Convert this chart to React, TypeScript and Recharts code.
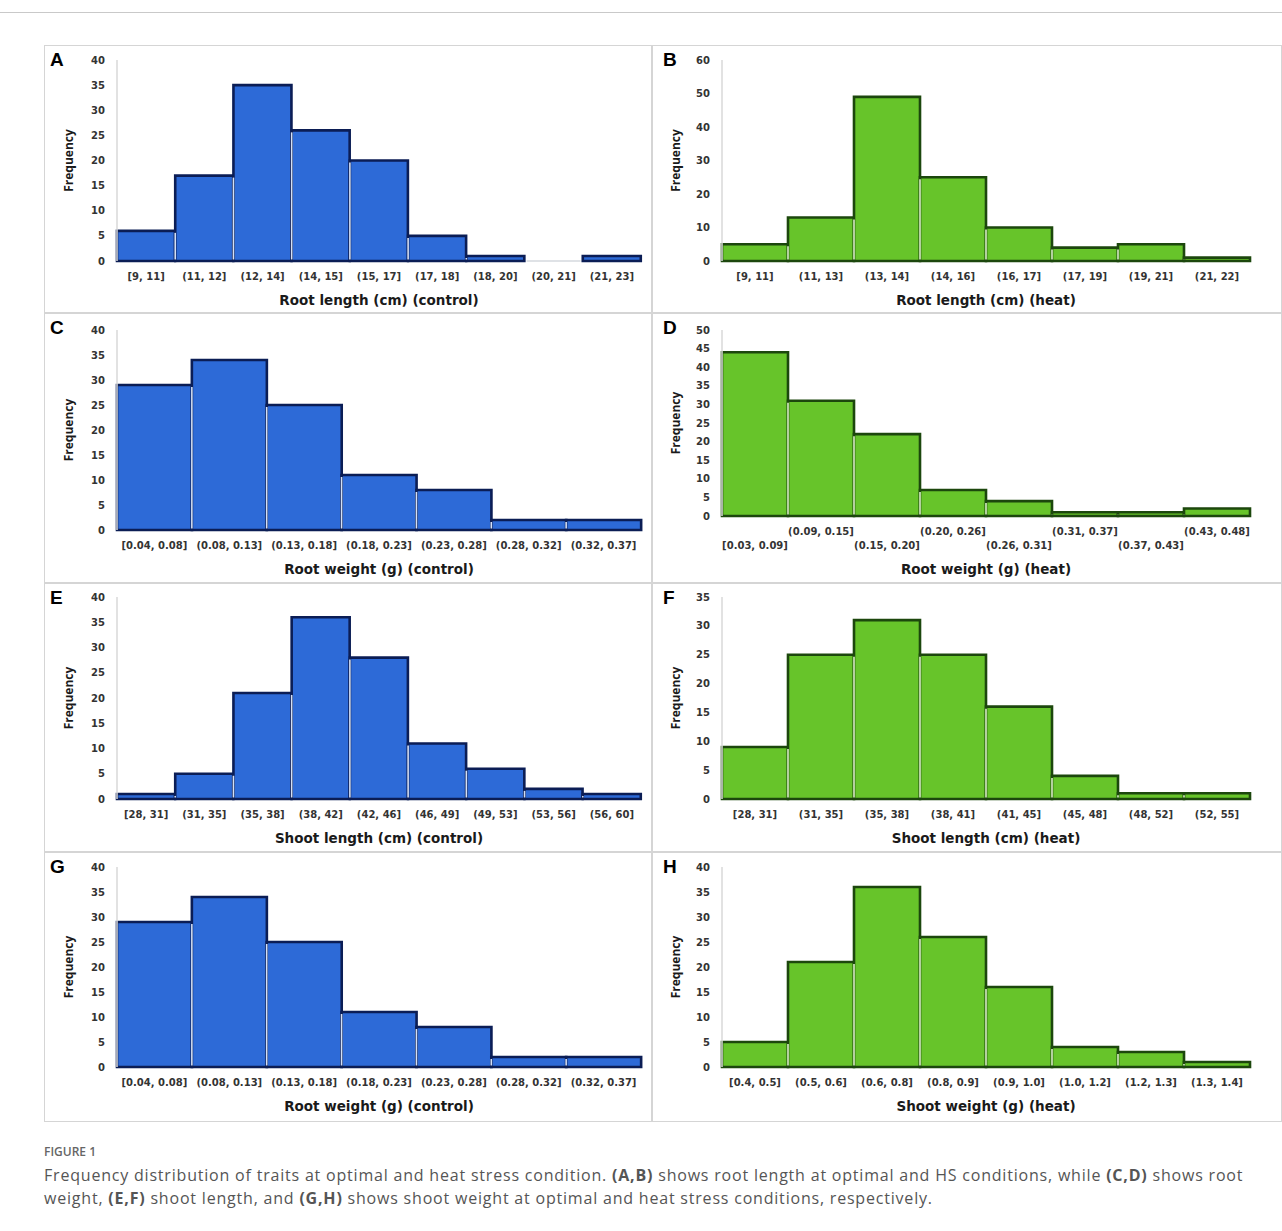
import { BarChart, Bar, XAxis, YAxis, Label } from "recharts";

// bins and frequencies
const rootLengthControlBins = ["[9, 11]", "(11, 12]", "(12, 14]", "(14, 15]", "(15, 17]", "(17, 18]", "(18, 20]", "(20, 21]", "(21, 23]"];
const rootLengthControlFreq = [6, 17, 35, 26, 20, 5, 1, 0, 1];

const rootLengthHeatBins = ["[9, 11]", "(11, 13]", "(13, 14]", "(14, 16]", "(16, 17]", "(17, 19]", "(19, 21]", "(21, 22]"];
const rootLengthHeatFreq = [5, 13, 49, 25, 10, 4, 5, 1];

const rootWeightControlBins = ["[0.04, 0.08]", "(0.08, 0.13]", "(0.13, 0.18]", "(0.18, 0.23]", "(0.23, 0.28]", "(0.28, 0.32]", "(0.32, 0.37]"];
const rootWeightControlFreq = [29, 34, 25, 11, 8, 2, 2];

const rootWeightHeatBins = ["[0.03, 0.09]", "(0.09, 0.15]", "(0.15, 0.20]", "(0.20, 0.26]", "(0.26, 0.31]", "(0.31, 0.37]", "(0.37, 0.43]", "(0.43, 0.48]"];
const rootWeightHeatFreq = [44, 31, 22, 7, 4, 1, 1, 2];

const shootLengthControlBins = ["[28, 31]", "(31, 35]", "(35, 38]", "(38, 42]", "(42, 46]", "(46, 49]", "(49, 53]", "(53, 56]", "(56, 60]"];
const shootLengthControlFreq = [1, 5, 21, 36, 28, 11, 6, 2, 1];

const shootLengthHeatBins = ["[28, 31]", "(31, 35]", "(35, 38]", "(38, 41]", "(41, 45]", "(45, 48]", "(48, 52]", "(52, 55]"];
const shootLengthHeatFreq = [9, 25, 31, 25, 16, 4, 1, 1];

// panel G repeats the root weight (control) histogram
const shootWeightControlBins = ["[0.04, 0.08]", "(0.08, 0.13]", "(0.13, 0.18]", "(0.18, 0.23]", "(0.23, 0.28]", "(0.28, 0.32]", "(0.32, 0.37]"];
const shootWeightControlFreq = [29, 34, 25, 11, 8, 2, 2];

const shootWeightHeatBins = ["[0.4, 0.5]", "(0.5, 0.6]", "(0.6, 0.8]", "(0.8, 0.9]", "(0.9, 1.0]", "(1.0, 1.2]", "(1.2, 1.3]", "(1.3, 1.4]"];
const shootWeightHeatFreq = [5, 21, 36, 26, 16, 4, 3, 1];

const ticks35 = [0, 5, 10, 15, 20, 25, 30, 35];
const ticks40 = [0, 5, 10, 15, 20, 25, 30, 35, 40];
const ticks50 = [0, 5, 10, 15, 20, 25, 30, 35, 40, 45, 50];
const ticks60 = [0, 10, 20, 30, 40, 50, 60];

const BLUE = { fill: "#2d6ad7", dark: "#0b1d55", light: "#d3e0f7" };
const GREEN = { fill: "#67c42a", dark: "#1c470d", light: "#dcf3c6" };

const FONT = "'Open Sans', 'DejaVu Sans', sans-serif";
const TICK_FONT = "'DejaVu Sans', Verdana, sans-serif";

const rowTop = [45, 313, 583, 852];
const rowHeight = [268, 270, 269, 270];

type PanelCfg = {
  letter: string;
  title: string;
  bins: string[];
  freq: number[];
  ticks: number[];
  color: typeof BLUE;
  col: number;
  row: number;
  marginTop: number;
  axisHeight: number;
  stagger?: boolean;
};

const panels: PanelCfg[] = [
  { letter: "A", title: "Root length (cm) (control)", bins: rootLengthControlBins, freq: rootLengthControlFreq, ticks: ticks40, color: BLUE, col: 0, row: 0, marginTop: 15, axisHeight: 52 },
  { letter: "B", title: "Root length (cm) (heat)", bins: rootLengthHeatBins, freq: rootLengthHeatFreq, ticks: ticks60, color: GREEN, col: 1, row: 0, marginTop: 15, axisHeight: 52 },
  { letter: "C", title: "Root weight (g) (control)", bins: rootWeightControlBins, freq: rootWeightControlFreq, ticks: ticks40, color: BLUE, col: 0, row: 1, marginTop: 17, axisHeight: 53 },
  { letter: "D", title: "Root weight (g) (heat)", bins: rootWeightHeatBins, freq: rootWeightHeatFreq, ticks: ticks50, color: GREEN, col: 1, row: 1, marginTop: 17, axisHeight: 67, stagger: true },
  { letter: "E", title: "Shoot length (cm) (control)", bins: shootLengthControlBins, freq: shootLengthControlFreq, ticks: ticks40, color: BLUE, col: 0, row: 2, marginTop: 14, axisHeight: 53 },
  { letter: "F", title: "Shoot length (cm) (heat)", bins: shootLengthHeatBins, freq: shootLengthHeatFreq, ticks: ticks35, color: GREEN, col: 1, row: 2, marginTop: 14, axisHeight: 53 },
  { letter: "G", title: "Root weight (g) (control)", bins: shootWeightControlBins, freq: shootWeightControlFreq, ticks: ticks40, color: BLUE, col: 0, row: 3, marginTop: 15, axisHeight: 55 },
  { letter: "H", title: "Shoot weight (g) (heat)", bins: shootWeightHeatBins, freq: shootWeightHeatFreq, ticks: ticks40, color: GREEN, col: 1, row: 3, marginTop: 15, axisHeight: 55 },
];

function makeShape(values: number[], c: typeof BLUE) {
  return (props: any) => {
    const { x, y, width, height, index } = props;
    const v = values[index];
    const bottom = y + height;
    if (!v) {
      return <line x1={x + 2} x2={x + width - 2} y1={bottom} y2={bottom} stroke="#d4d8de" strokeWidth={1.5} />;
    }
    const unit = height / v;
    const prev = index > 0 ? values[index - 1] : 0;
    const shared = Math.min(prev, v) * unit;
    return (
      <g>
        <rect x={x} y={y} width={width} height={height} fill={c.fill} />
        <path
          d={`M${x},${bottom} L${x},${y} L${x + width},${y} L${x + width},${bottom} Z`}
          fill="none"
          stroke={c.dark}
          strokeWidth={2.6}
        />
        {shared > 3 && (
          <line x1={x} x2={x} y1={bottom - 1.5} y2={bottom - shared + 2} stroke={c.light} strokeWidth={1.6} />
        )}
      </g>
    );
  };
}

function Panel({ p }: { p: PanelCfg }) {
  const left = p.col === 0 ? 44 : 652;
  const top = rowTop[p.row];
  const h = rowHeight[p.row];
  const data = p.bins.map((b, i) => ({ bin: b, freq: p.freq[i] }));
  const yMax = p.ticks[p.ticks.length - 1];

  const xTick = (props: any) => {
    const { x, y, payload, index } = props;
    const dy = p.stagger ? (index % 2 === 0 ? 29 : 15) : 15;
    return (
      <text x={x} y={y + dy} textAnchor="middle" dominantBaseline="central" fontFamily={TICK_FONT} fontSize={10} fontWeight={700} fill="#333">
        {payload.value}
      </text>
    );
  };

  return (
    <div style={{ position: "absolute", left, top, width: p.col === 0 ? 608 : 630, height: h, boxSizing: "border-box", border: "1.5px solid #d5d5d5" }}>
      <div style={{ position: "absolute", left: p.col === 0 ? 0 : -1, top: -1.5 }}>
        <BarChart
          width={608}
          height={h}
          data={data}
          barCategoryGap={0}
          barGap={0}
          margin={{ top: p.marginTop, right: p.col === 0 ? 12 : 10, left: 0, bottom: 0 }}
        >
          <XAxis
            dataKey="bin"
            axisLine={false}
            tickLine={false}
            tickSize={0}
            tickMargin={0}
            interval={0}
            height={p.axisHeight}
            tick={xTick}
          >
            <Label
              content={(lp: any) => {
                const vb = lp.viewBox;
                return (
                  <text x={vb.x + vb.width / 2} y={vb.y + (p.stagger ? 53 : 39)} textAnchor="middle" dominantBaseline="central" fontFamily={TICK_FONT} fontSize={13.5} fontWeight={700} fill="#1a1a1a">
                    {p.title}
                  </text>
                );
              }}
            />
          </XAxis>
          <YAxis
            width={p.col === 0 ? 72 : 70}
            domain={[0, yMax]}
            ticks={p.ticks}
            interval={0}
            axisLine={{ stroke: "#d8d8d8", strokeWidth: 1.5 }}
            tickLine={false}
            tickSize={0}
            tickMargin={12}
            tick={{ fontFamily: TICK_FONT, fontSize: 10, fontWeight: 700, fill: "#333" }}
          >
            <Label
              content={(lp: any) => {
                const vb = lp.viewBox;
                const cy = vb.y + vb.height / 2;
                const cx = vb.x + 23;
                return (
                  <text x={cx} y={cy} transform={`rotate(-90, ${cx}, ${cy})`} textAnchor="middle" dominantBaseline="central" fontFamily={FONT} fontSize={12} fontWeight={700} fill="#1a1a1a">
                    Frequency
                  </text>
                );
              }}
            />
          </YAxis>
          <Bar dataKey="freq" isAnimationActive={false} shape={makeShape(p.freq, p.color)} />
        </BarChart>
      </div>
      <div
        style={{
          position: "absolute",
          left: p.col === 0 ? 5 : 10,
          top: 3,
          fontFamily: "'Liberation Sans', Arial, sans-serif",
          fontWeight: 700,
          fontSize: 19,
          color: "#000",
        }}
      >
        {p.letter}
      </div>
    </div>
  );
}

export default function App() {
  return (
    <div style={{ position: "absolute", left: 0, top: 0, width: 1282, height: 1231, background: "#fff", overflow: "hidden" }}>
      <div style={{ position: "absolute", left: 0, top: 12, width: 1282, height: 1, background: "#c9c9c9" }} />
      {panels.map((p) => (
        <Panel key={p.letter} p={p} />
      ))}
      <div style={{ position: "absolute", left: 44, top: 1143, fontFamily: FONT, fontSize: 12, fontWeight: 600, color: "#666" }}>
        FIGURE 1
      </div>
      <div style={{ position: "absolute", left: 44, top: 1164, fontFamily: FONT, fontSize: 16, lineHeight: "23px", color: "#555", whiteSpace: "nowrap", letterSpacing: 0.8 }}>
        Frequency distribution of traits at optimal and heat stress condition. <b>(A,B)</b> shows root length at optimal and HS conditions, while <b>(C,D)</b> shows root
        <br />
        weight, <b>(E,F)</b> shoot length, and <b>(G,H)</b> shows shoot weight at optimal and heat stress conditions, respectively.
      </div>
    </div>
  );
}
